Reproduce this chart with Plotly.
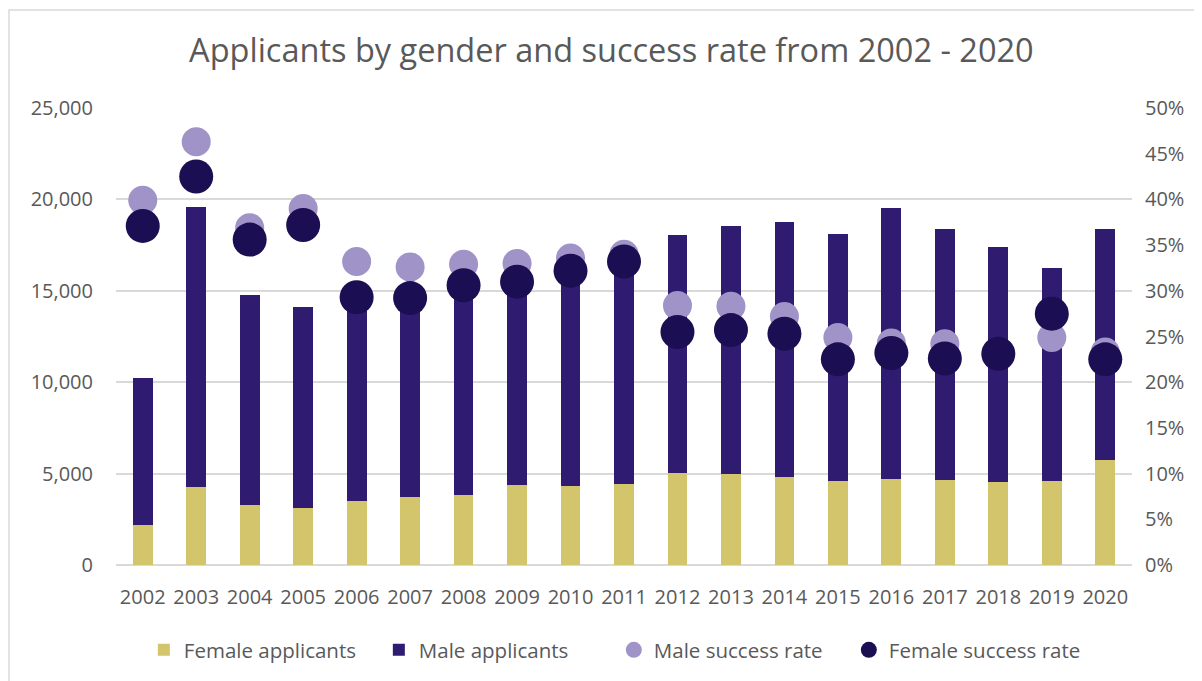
import plotly.graph_objects as go

years = [str(y) for y in range(2002, 2021)]
female_applicants = [2170, 4250, 3300, 3135, 3500, 3700, 3850, 4375, 4300, 4450,
                     5030, 4995, 4815, 4595, 4705, 4650, 4560, 4595, 5730]
total_applicants = [10230, 19570, 14755, 14100, 14700, 14600, 15100, 15400, 16000, 16700,
                    18070, 18560, 18745, 18110, 19530, 18365, 17400, 16230, 18380]
male_applicants = [t - f for t, f in zip(total_applicants, female_applicants)]
male_success = [0.399, 0.463, 0.369, 0.390, 0.332, 0.326, 0.329, 0.330, 0.336, 0.340,
                0.284, 0.283, 0.272, 0.249, 0.243, 0.242, 0.233, 0.249, 0.233]
female_success = [0.371, 0.425, 0.356, 0.372, 0.293, 0.292, 0.306, 0.310, 0.322, 0.332,
                  0.255, 0.257, 0.253, 0.225, 0.232, 0.226, 0.231, 0.275, 0.225]

FONT = "Open Sans"
GREY = "#595959"

fig = go.Figure()
fig.add_trace(go.Bar(x=years, y=female_applicants, name="Female applicants",
                     marker=dict(color="#d3c56c", line=dict(width=0))))
fig.add_trace(go.Bar(x=years, y=male_applicants, name="Male applicants",
                     marker=dict(color="#2f1c70", line=dict(width=0))))
fig.add_trace(go.Scatter(x=years, y=male_success, name="Male success rate", mode="markers",
                         yaxis="y2", marker=dict(color="#a093c7", size=29)))
fig.add_trace(go.Scatter(x=years, y=female_success, name="Female success rate", mode="markers",
                         yaxis="y2", marker=dict(color="#1c0e52", size=34)))

fig.update_layout(
    width=1202, height=681,
    barmode="stack", bargap=0.63,
    paper_bgcolor="white", plot_bgcolor="white",
    margin=dict(l=108, r=78, t=100, b=124, autoexpand=False),
    font=dict(family=FONT, color=GREY, size=20),
    title=dict(text="Applicants by gender and success rate from 2002 - 2020",
               x=0.502, xanchor="center", y=0.938, yanchor="middle",
               font=dict(family=FONT, size=32.5, color=GREY)),
    xaxis=dict(type="category", range=[-0.5, 18.5], showgrid=False, showline=False,
               ticks="", ticklabelstandoff=18, automargin=False,
               tickfont=dict(size=20, color=GREY)),
    yaxis=dict(range=[0, 25000], dtick=5000, tickformat=",", showgrid=True,
               gridcolor="#d9d9d9", gridwidth=1.5, zeroline=True, zerolinecolor="#d9d9d9",
               zerolinewidth=1.5, ticks="", ticklabelstandoff=22, automargin=False,
               tickfont=dict(size=20, color=GREY)),
    yaxis2=dict(range=[0, 0.5], dtick=0.05, tickformat=".0%", overlaying="y", side="right",
                showgrid=False, zeroline=False, ticks="", ticklabelstandoff=12,
                automargin=False, tickfont=dict(size=20, color=GREY)),
    legend=dict(orientation="h", x=0.49, xanchor="center", y=-0.186, yanchor="middle",
                font=dict(size=20.5, color=GREY), traceorder="normal", itemwidth=30,
                entrywidth=190, entrywidthmode="pixels"),
    shapes=[dict(type="rect", xref="paper", yref="paper", x0=-0.1053, x1=1.0768,
                 y0=-0.271, y1=1.2144, line=dict(color="#d9d9d9", width=1.5))],
)

fig.write_html("out.html")
